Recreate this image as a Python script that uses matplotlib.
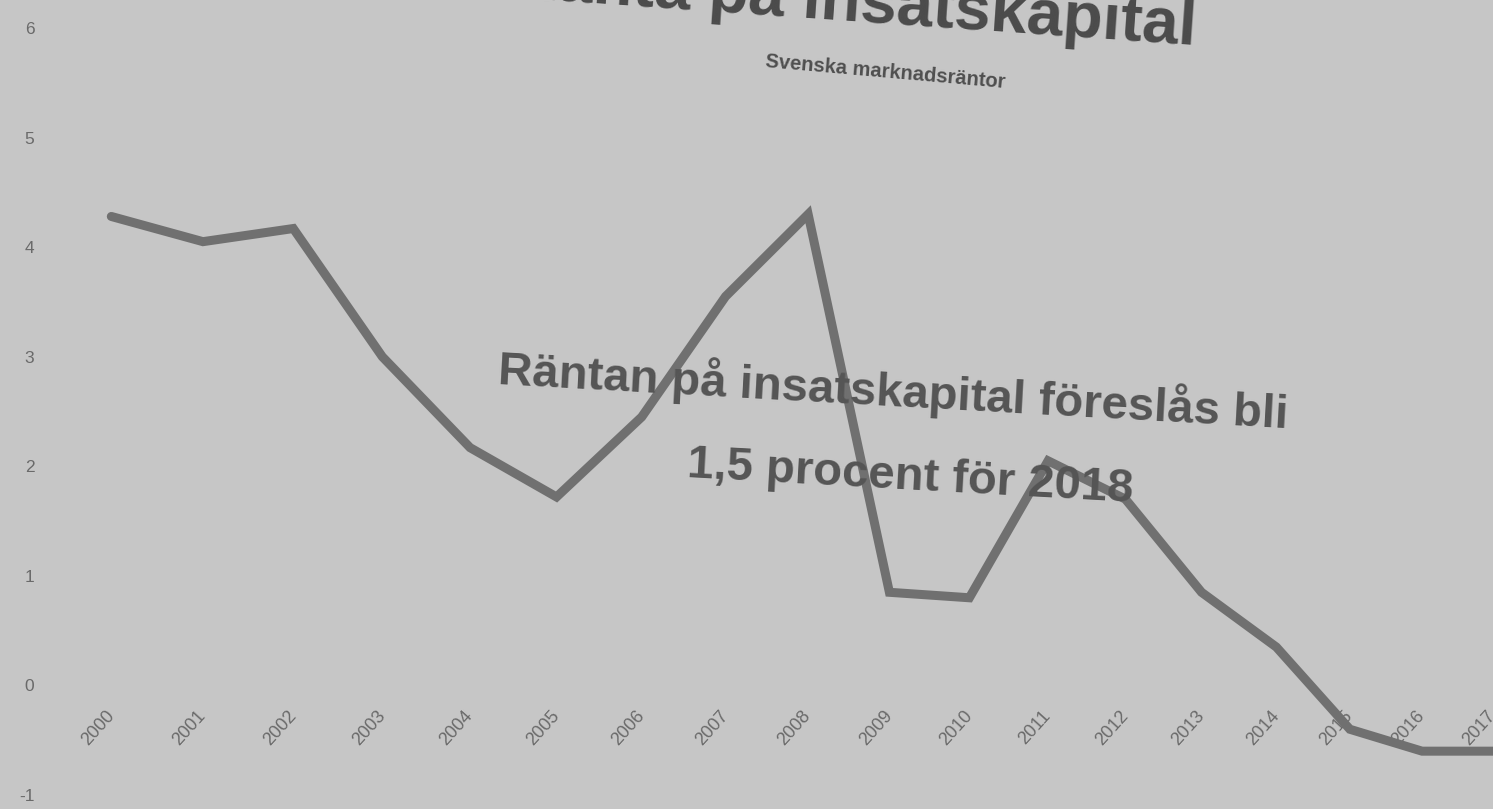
import numpy as np
import matplotlib.pyplot as plt

# Svenska marknadsräntor, årsgenomsnitt (procent)
years = [2000, 2001, 2002, 2003, 2004, 2005, 2006, 2007, 2008,
         2009, 2010, 2011, 2012, 2013, 2014, 2015, 2016, 2017]
rates = [4.28, 4.05, 4.17, 3.0, 2.17, 1.72, 2.45, 3.55, 4.3,
         0.85, 0.8, 2.05, 1.7, 0.85, 0.35, -0.4, -0.6, -0.6]
yticks = [-1, 0, 1, 2, 3, 4, 5, 6]

title = 'Ränta på insatskapital'
subtitle = 'Svenska marknadsräntor'
note = ['Räntan på insatskapital föreslås bli', '1,5 procent för 2018']

bg = '#c6c6c6'
plt.rcParams['font.family'] = ['Liberation Sans', 'DejaVu Sans']

# årsaxeln trycks ihop något åt höger
B, C = 93.5, 0.656


def fwd(x):
    t = np.asarray(x, dtype=float) - 2000
    return B * t - C * t ** 2


def inv(p):
    p = np.asarray(p, dtype=float)
    return 2000 + (B - np.sqrt(np.clip(B ** 2 - 4 * C * p, 0, None))) / (2 * C)


fig = plt.figure(figsize=(14.93, 8.09), dpi=100, facecolor=bg)
ax = fig.add_axes([65 / 1493, 1 - 795 / 809, 1 - 65 / 1493, (795 - 28) / 809])
ax.set_facecolor(bg)
ax.set_xscale('function', functions=(fwd, inv))

# x-axeln ligger vid noll
ax.spines['bottom'].set_position(('data', 0))
for s in ax.spines.values():
    s.set_visible(False)

ax.plot(years, rates, color='#707070', linewidth=6.5, solid_joinstyle='miter',
        solid_capstyle='round')

ax.set_xlim(1999.5, 2016.74)
ax.set_ylim(-1, 6)
ax.set_yticks(yticks)
ax.set_yticklabels([str(v) for v in yticks], fontsize=12.5, color='#6a6a6a')
ax.set_xticks(years)
ax.set_xticklabels([str(y) for y in years], fontsize=13, color='#6a6a6a',
                   rotation=48, ha='right', va='center', rotation_mode='anchor')
ax.xaxis.set_minor_locator(plt.NullLocator())
ax.tick_params(axis='x', length=0, pad=20)
ax.tick_params(axis='y', length=0, pad=22)

fig.text(1195 / 1493, 1 - 45 / 809, title, ha='right', va='baseline',
         fontsize=47, fontweight='bold', color='#4b4b4b', rotation=-4,
         rotation_mode='anchor')
fig.text(885 / 1493, 1 - 72 / 809, subtitle, ha='center', va='center',
         fontsize=14.5, fontweight='bold', color='#4f4f4f', rotation=-5,
         rotation_mode='anchor')

fig.text(893 / 1493, 1 - 392 / 809, note[0], ha='center', va='center',
         fontsize=34, fontweight='bold', color='#555555', rotation=-3.2,
         rotation_mode='anchor')
fig.text(910 / 1493, 1 - 478 / 809, note[1], ha='center', va='center',
         fontsize=34, fontweight='bold', color='#555555', rotation=-3.2,
         rotation_mode='anchor')

fig.savefig('out.png', dpi=100, facecolor=bg)
